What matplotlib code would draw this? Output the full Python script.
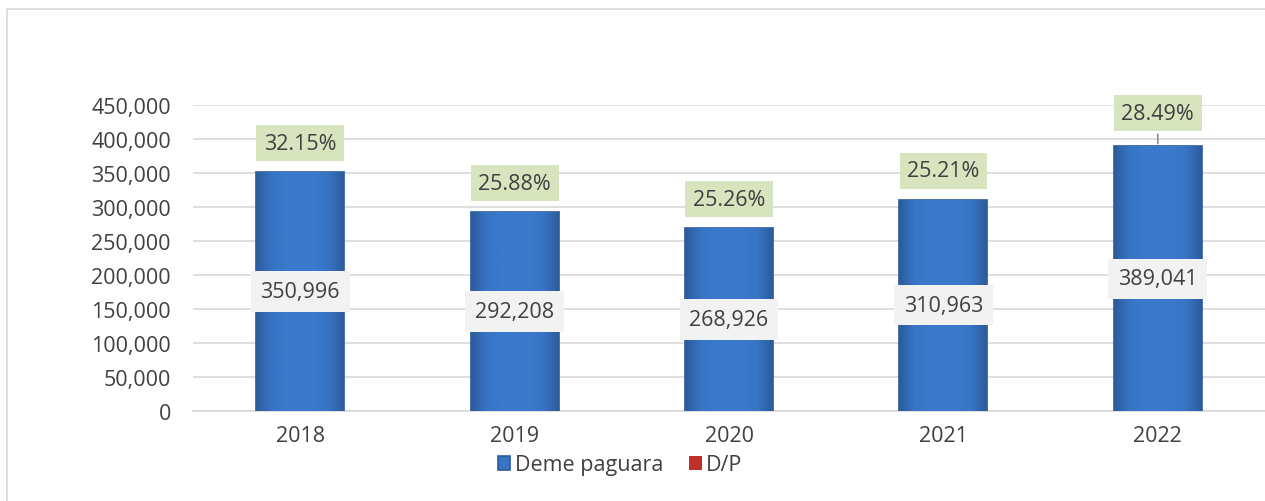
import matplotlib.pyplot as plt
import numpy as np
from matplotlib.colors import LinearSegmentedColormap
from matplotlib.patches import Rectangle

plt.rcParams['font.family'] = ['Open Sans', 'DejaVu Sans']

years = ['2018', '2019', '2020', '2021', '2022']
deme_paguara = [350996, 292208, 268926, 310963, 389041]
dp_ratio = [32.15, 25.88, 25.26, 25.21, 28.49]

fig = plt.figure(figsize=(12.65, 5.02), dpi=100)
ax = fig.add_axes([193 / 1265, 1 - 412 / 502, 1 - 193 / 1265, (412 - 106) / 502])

x = range(len(years))
bars = ax.bar(x, deme_paguara, width=0.41, color='#3874C6', edgecolor='#2B5A98',
              linewidth=1.2, label='Deme paguara', zorder=3)
# D/P sits on top of the main bars, far too small to be seen at this scale
dp_bars = ax.bar(x, [v / 100 for v in dp_ratio], bottom=deme_paguara, width=0.41,
                 color='#C0302A', label='D/P', zorder=3)

# soft shading on the bars, darker toward the sides
shade = LinearSegmentedColormap.from_list(
    'shade', ['#2D5C9C', '#3774C4', '#3A79CB', '#3A79CB', '#3A79CB', '#3774C4', '#2D5C9C'])
grad = np.linspace(0, 1, 64).reshape(1, -1)
for b in bars:
    im = ax.imshow(grad, cmap=shade, aspect='auto', zorder=3.5,
                   extent=(b.get_x(), b.get_x() + b.get_width(), 0, b.get_height()))
    im.set_clip_path(b)

ax.set_xlim(-0.5, len(years) - 0.5)
ax.set_ylim(0, 450000)
ax.set_yticks(range(0, 450001, 50000))
ax.set_yticklabels([f'{v:,}' for v in range(0, 450001, 50000)])
ax.set_xticks(list(x))
ax.set_xticklabels(years)
ax.tick_params(length=0, labelsize=15.5, colors='#404040', pad=10)
ax.tick_params(axis='y', pad=16)
ax.grid(axis='y', color='#D9D9D9', linewidth=1.2, zorder=0)
for s in ['top', 'right', 'left']:
    ax.spines[s].set_visible(False)
ax.spines['bottom'].set_color('#D9D9D9')
ax.spines['bottom'].set_linewidth(1.2)

for b, v in zip(bars, deme_paguara):
    ax.text(b.get_x() + b.get_width() / 2, v / 2, f'{v:,}', ha='center', va='center',
            fontsize=15.5, color='#404040', zorder=5,
            bbox=dict(boxstyle='square,pad=0.45', fc='#F2F2F2', ec='none'))

for i, (b, v, p) in enumerate(zip(dp_bars, deme_paguara, dp_ratio)):
    off = 33 if i == 4 else 29
    ax.annotate(f'{p:.2f}%', (b.get_x() + b.get_width() / 2, v), xytext=(0, off),
                textcoords='offset pixels',
                ha='center', va='center', fontsize=15.5, color='#404040', zorder=5,
                bbox=dict(boxstyle='square,pad=0.35', fc='#D7E4BD', ec='none'),
                arrowprops=dict(arrowstyle='-', color='#8C8C8C', lw=1.2) if i == 4 else None)

leg = fig.legend(loc='center', bbox_to_anchor=(620 / 1265, 1 - 466 / 502), ncol=2,
                 frameon=False, fontsize=15.5, handlelength=0.6, handleheight=0.6,
                 handletextpad=0.2, columnspacing=1.2)
for t in leg.get_texts():
    t.set_color('#404040')

fig.patches.append(Rectangle((7 / 1265, -0.1), 1.2, 1 - 10 / 502 + 0.1,
                             transform=fig.transFigure, fill=False,
                             ec='#D9D9D9', lw=1.2))

fig.savefig('out.png', dpi=100)
